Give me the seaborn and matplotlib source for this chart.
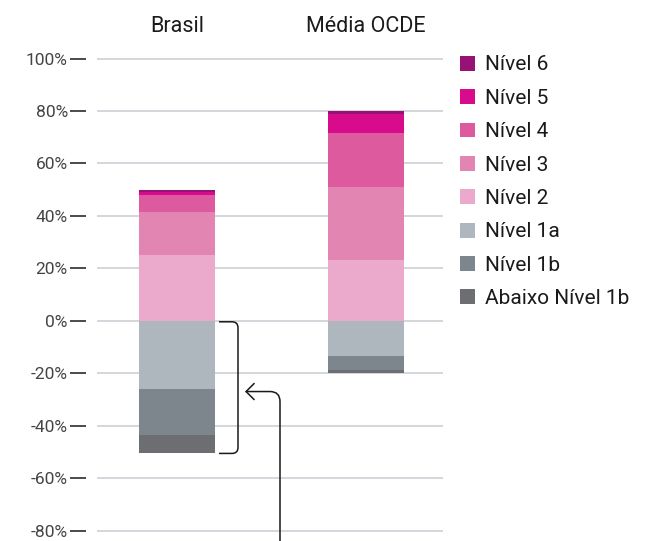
import numpy as np
import pandas as pd
import matplotlib
matplotlib.use("Agg")
import matplotlib.pyplot as plt
import seaborn as sns
from matplotlib.patches import Patch, PathPatch, FancyArrowPatch
from matplotlib.path import Path

# Distribution of students by proficiency level (%)
groups = ["Brasil", "Média OCDE"]
levels = ["Abaixo Nível 1b", "Nível 1b", "Nível 1a",
          "Nível 2", "Nível 3", "Nível 4", "Nível 5", "Nível 6"]
brasil = [7.1, 17.4, 26.1, 25.1, 16.3, 6.5, 1.3, 0.5]
ocde = [1.3, 5.2, 13.6, 23.2, 27.9, 20.5, 7.2, 1.1]
colors = ["#6d6e71", "#7e868d", "#adb7bd",
          "#ebaacb", "#e285b3", "#de5a9e", "#d80b8c", "#981276"]
yticks = list(range(-80, 101, 20))

sns.set_style("white")
plt.rcParams["font.family"] = ["Roboto", "DejaVu Sans"]

# long table with signed values and stacking offsets
rows = []
for g, vals in zip(groups, [brasil, ocde]):
    d = dict(zip(levels, vals))
    # levels below 2 stack downward from zero, starting at 1a
    base = 0.0
    for lv in ["Nível 1a", "Nível 1b", "Abaixo Nível 1b"]:
        rows.append(dict(group=g, level=lv, value=-d[lv], bottom=base))
        base -= d[lv]
    base = 0.0
    for lv in ["Nível 2", "Nível 3", "Nível 4", "Nível 5", "Nível 6"]:
        rows.append(dict(group=g, level=lv, value=d[lv], bottom=base))
        base += d[lv]
df = pd.DataFrame(rows)

W, H = 652, 541
fig = plt.figure(figsize=(W / 100, H / 100), dpi=100)
ymin, ymax = -84, 102
ax = fig.add_axes([97 / W, 0.0, 346 / W, (H - 53.3) / H])

bar_w = 76 / 189
for lv, c in zip(levels, colors):
    sub = df[df["level"] == lv].set_index("group").loc[groups].reset_index()
    sns.barplot(data=sub, x="group", y="value", order=groups,
                bottom=sub["bottom"].values, color=c, saturation=1,
                width=bar_w, linewidth=0, errorbar=None, ax=ax)

ax.set_xlim(-80 / 189, 1 + 77 / 189)
ax.set_ylim(ymin, ymax)
ax.set_xlabel("")
ax.set_ylabel("")

# y axis: percentage labels with dash ticks, light horizontal grid
ax.set_yticks(yticks)
ax.set_yticklabels([f"{v}%" for v in yticks])
ax.spines["left"].set_position(("outward", 8))
for s in ax.spines.values():
    s.set_visible(False)
ax.tick_params(axis="y", left=True, length=11.5, width=1.1, color="#1a1a1a",
               pad=1.5, labelsize=12.5, labelcolor="#444444")
ax.yaxis.grid(True, color="#c8cdd3", linewidth=1.1)
ax.xaxis.grid(False)
ax.set_axisbelow(True)

# group names on top
ax.xaxis.tick_top()
ax.tick_params(axis="x", length=0, pad=12, labelsize=15.5,
               labelcolor="#1a1a1a")

# bracket around the share below level 2 in Brasil
px_x, px_y = 1 / 189, 1 / 2.622
low_total = sum(brasil[:3])
x0, x1 = 42 * px_x, 61 * px_x
rx, ry = 6 * px_x, 6 * px_y
yt, yb = -0.4, -low_total
verts = [(x0, yt), (x1 - rx, yt), (x1, yt), (x1, yt - ry),
         (x1, yb + ry), (x1, yb), (x1 - rx, yb), (x0, yb)]
codes = [Path.MOVETO, Path.LINETO, Path.CURVE3, Path.CURVE3,
         Path.LINETO, Path.CURVE3, Path.CURVE3, Path.LINETO]
ax.add_patch(PathPatch(Path(verts, codes), fill=False, edgecolor="#1a1a1a",
                       linewidth=1.1, clip_on=False))

# arrow pointing at the bracket
xv, yh, xt = 103 * px_x, -27.0, 68 * px_x
rx2, ry2 = 10 * px_x, 10 * px_y
averts = [(xv, -90), (xv, yh - ry2), (xv, yh), (xv - rx2, yh), (xt, yh)]
acodes = [Path.MOVETO, Path.LINETO, Path.CURVE3, Path.CURVE3, Path.LINETO]
arrow = FancyArrowPatch(path=Path(averts, acodes),
                        arrowstyle="->,head_length=0.58,head_width=0.58",
                        mutation_scale=10, color="#1a1a1a", linewidth=1.1,
                        transform=ax.transData, clip_on=False)
ax.add_patch(arrow)

# legend, highest level first
handles = [Patch(facecolor=c, edgecolor="none") for c in colors[::-1]]
fig.legend(handles, levels[::-1], loc="upper left",
           bbox_to_anchor=(460 / W, (H - 55.5) / H), bbox_transform=fig.transFigure,
           frameon=False, borderpad=0, borderaxespad=0, handlelength=0.72,
           handleheight=0.72, handletextpad=0.48, labelspacing=0.69,
           fontsize=15, labelcolor="#1a1a1a")

fig.savefig("out.png", dpi=100)
